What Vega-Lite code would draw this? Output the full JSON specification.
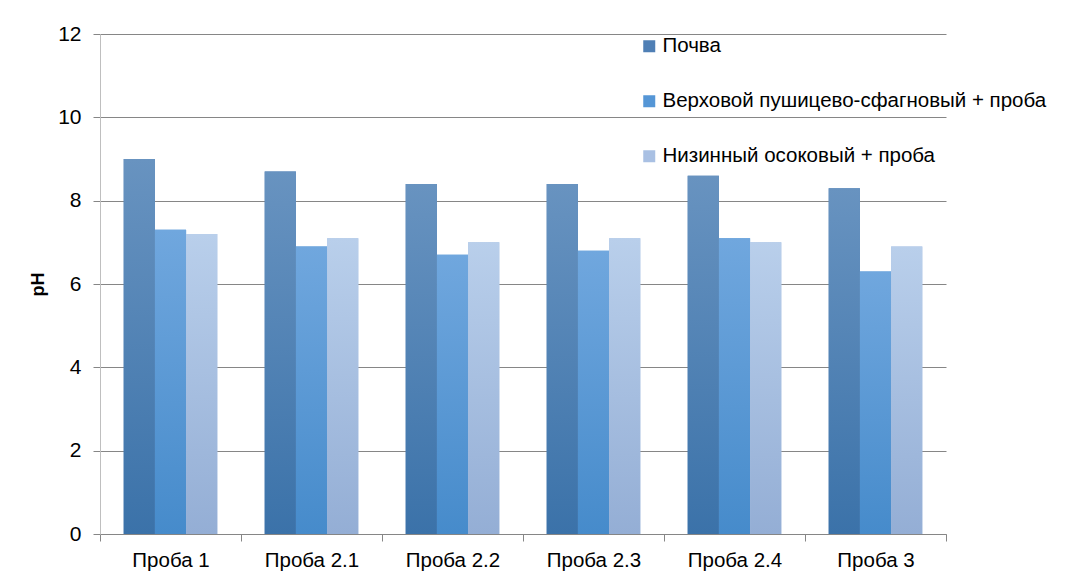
{
  "$schema": "https://vega.github.io/schema/vega-lite/v6.json",
  "width": 846,
  "height": 500,
  "autosize": {"type": "none"},
  "padding": {"left": 100, "top": 34, "right": 120, "bottom": 45},
  "background": "white",
  "config": {"view": {"stroke": null}, "font": "Liberation Sans"},
  "data": {
    "values": [
      {"probe": "Проба 1", "series": "Почва", "pH": 9.0},
      {"probe": "Проба 1", "series": "Верховой пушицево-сфагновый + проба", "pH": 7.3},
      {"probe": "Проба 1", "series": "Низинный осоковый + проба", "pH": 7.2},
      {"probe": "Проба 2.1", "series": "Почва", "pH": 8.7},
      {"probe": "Проба 2.1", "series": "Верховой пушицево-сфагновый + проба", "pH": 6.9},
      {"probe": "Проба 2.1", "series": "Низинный осоковый + проба", "pH": 7.1},
      {"probe": "Проба 2.2", "series": "Почва", "pH": 8.4},
      {"probe": "Проба 2.2", "series": "Верховой пушицево-сфагновый + проба", "pH": 6.7},
      {"probe": "Проба 2.2", "series": "Низинный осоковый + проба", "pH": 7.0},
      {"probe": "Проба 2.3", "series": "Почва", "pH": 8.4},
      {"probe": "Проба 2.3", "series": "Верховой пушицево-сфагновый + проба", "pH": 6.8},
      {"probe": "Проба 2.3", "series": "Низинный осоковый + проба", "pH": 7.1},
      {"probe": "Проба 2.4", "series": "Почва", "pH": 8.6},
      {"probe": "Проба 2.4", "series": "Верховой пушицево-сфагновый + проба", "pH": 7.1},
      {"probe": "Проба 2.4", "series": "Низинный осоковый + проба", "pH": 7.0},
      {"probe": "Проба 3", "series": "Почва", "pH": 8.3},
      {"probe": "Проба 3", "series": "Верховой пушицево-сфагновый + проба", "pH": 6.3},
      {"probe": "Проба 3", "series": "Низинный осоковый + проба", "pH": 6.9}
    ]
  },
  "encoding": {
    "x": {
      "field": "probe", "type": "nominal",
      "sort": ["Проба 1", "Проба 2.1", "Проба 2.2", "Проба 2.3", "Проба 2.4", "Проба 3"],
      "scale": {"paddingInner": 0, "paddingOuter": 0},
      "axis": {
        "title": null, "labelAngle": 0, "tickBand": "extent",
        "domainColor": "#868686", "tickColor": "#868686", "tickSize": 7,
        "labelFontSize": 20.5, "labelColor": "#000000", "labelPadding": 9
      }
    },
    "xOffset": {
      "field": "series", "type": "nominal",
      "sort": ["Почва", "Верховой пушицево-сфагновый + проба", "Низинный осоковый + проба"],
      "scale": {"paddingInner": 0, "paddingOuter": 0.76}
    },
    "y": {
      "field": "pH", "type": "quantitative",
      "scale": {"domain": [0, 12], "nice": false},
      "axis": {
        "values": [0, 2, 4, 6, 8, 10, 12], "title": "pH",
        "domainColor": "#bfbfbf", "tickColor": "#868686", "tickSize": 7,
        "gridColor": "#868686", "gridOpacity": 1,
        "labelFontSize": 21, "labelColor": "#000000", "labelPadding": 12,
        "titleFontSize": 18, "titleFontWeight": "bold", "titleColor": "#000000", "titlePadding": 10
      }
    }
  },
  "layer": [
    {
      "mark": {"type": "bar"},
      "encoding": {
        "color": {
          "field": "series", "type": "nominal",
          "sort": ["Почва", "Верховой пушицево-сфагновый + проба", "Низинный осоковый + проба"],
          "scale": {
            "domain": ["Почва", "Верховой пушицево-сфагновый + проба", "Низинный осоковый + проба"],
            "range": ["#4f7fb5", "#5596d6", "#a9c0e3"]
          },
          "legend": {
            "orient": "none", "legendX": 539, "legendY": 2, "title": null,
            "symbolType": "square", "symbolSize": 144, "symbolStrokeWidth": 0,
            "labelFontSize": 20.5, "labelColor": "#000000", "labelOffset": 3,
            "labelLimit": 0, "rowPadding": 34
          }
        }
      }
    },
    {
      "transform": [{"filter": "datum.series === 'Почва'"}],
      "mark": {
        "type": "bar",
        "color": {"gradient": "linear", "x1": 0, "y1": 0, "x2": 0, "y2": 1,
          "stops": [{"offset": 0, "color": "#6893c0"}, {"offset": 1, "color": "#3b72a9"}]}
      }
    },
    {
      "transform": [{"filter": "datum.series === 'Верховой пушицево-сфагновый + проба'"}],
      "mark": {
        "type": "bar",
        "color": {"gradient": "linear", "x1": 0, "y1": 0, "x2": 0, "y2": 1,
          "stops": [{"offset": 0, "color": "#70a7de"}, {"offset": 1, "color": "#468bcb"}]}
      }
    },
    {
      "transform": [{"filter": "datum.series === 'Низинный осоковый + проба'"}],
      "mark": {
        "type": "bar",
        "color": {"gradient": "linear", "x1": 0, "y1": 0, "x2": 0, "y2": 1,
          "stops": [{"offset": 0, "color": "#b9cfeb"}, {"offset": 1, "color": "#94aed5"}]}
      }
    }
  ]
}
